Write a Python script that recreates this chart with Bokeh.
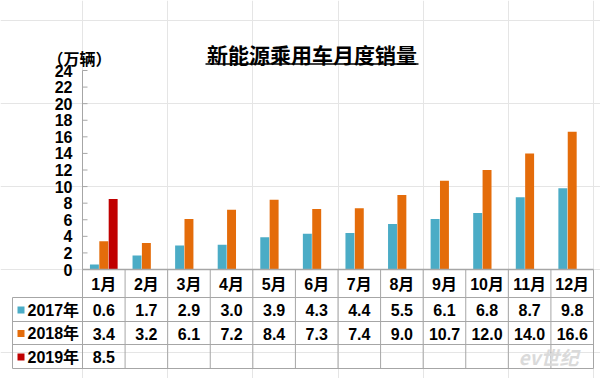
from bokeh.plotting import figure
from bokeh.models import Range1d
from bokeh.core.properties import value
from bokeh.embed import file_html
from bokeh.resources import INLINE

# ---- data ----
months = ["1月", "2月", "3月", "4月", "5月", "6月", "7月", "8月", "9月", "10月", "11月", "12月"]
sales_2017 = [0.6, 1.7, 2.9, 3.0, 3.9, 4.3, 4.4, 5.5, 6.1, 6.8, 8.7, 9.8]
sales_2018 = [3.4, 3.2, 6.1, 7.2, 8.4, 7.3, 7.4, 9.0, 10.7, 12.0, 14.0, 16.6]
sales_2019 = [8.5]
series_names = ["2017年", "2018年", "2019年"]
y_ticks = [0, 2, 4, 6, 8, 10, 12, 14, 16, 18, 20, 22, 24]
title_text = "新能源乘用车月度销量"
unit_text = "（万辆）"

# ---- styles ----
colors = ["#4BACC6", "#E46C0A", "#C00000"]
grid_col = "#A6A6A6"
FONT = "Liberation Sans, Noto Sans CJK SC"
CJK = "Noto Sans CJK SC"

W, H = 600, 378
# layout in pixels
ax_left, ax_right = 82.0, 593.0
base_y, top_y = 269.0, 70.0
ncat = len(months)
cat_px = (ax_right - ax_left) / ncat
unit_px = (base_y - top_y) / 24.0

x_start = -ax_left / cat_px
x_end = ncat + (W - ax_right) / cat_px
y_start = -(H - base_y) / unit_px
y_end = base_y / unit_px

p = figure(width=W, height=H, output_backend="svg", toolbar_location=None,
           x_range=Range1d(x_start, x_end), y_range=Range1d(y_start, y_end),
           x_axis_location=None, y_axis_location=None, min_border=0)
p.outline_line_color = None
p.background_fill_color = "white"
p.border_fill_color = "white"
p.extra_x_ranges = {"px": Range1d(0, W)}
p.extra_y_ranges = {"px": Range1d(H, 0)}

# ---- bars ----
bw = 0.21
offs = [-0.22, 0.0, 0.22]
series = [sales_2017, sales_2018, sales_2019]
for vals, off, col in zip(series, offs, colors):
    xs = [i + 0.5 + off for i in range(len(vals))]
    p.vbar(x=xs, top=vals, bottom=0, width=bw, fill_color=col, line_color=None)

# ---- y axis ----
p.segment(x0=[ax_left], x1=[ax_left], y0=[0], y1=[max(y_ticks)],
          x_range_name="px", line_color=grid_col, line_width=1)
p.segment(x0=[ax_left] * len(y_ticks), x1=[ax_left + 5] * len(y_ticks),
          y0=y_ticks, y1=y_ticks, x_range_name="px", line_color=grid_col, line_width=1)
p.text(x=[72] * len(y_ticks), y=y_ticks, text=[str(t) for t in y_ticks],
       x_range_name="px", text_align="right", text_baseline="middle",
       text_font=value(FONT), text_font_style="bold", text_font_size="16px",
       text_color="black")
p.text(x=[47], y=[57], text=[unit_text], x_range_name="px", y_range_name="px",
       text_align="left", text_baseline="middle", text_font=value(CJK),
       text_font_style="bold", text_font_size="16px", text_color="black")

# ---- x axis line ----
p.segment(x0=[0], x1=[ncat], y0=[0], y1=[0], line_color=grid_col, line_width=1.5)

# ---- title ----
p.text(x=[311.5], y=[53], text=[title_text], x_range_name="px", y_range_name="px",
       text_align="center", text_baseline="middle", text_font=value(CJK),
       text_font_style="bold", text_font_size="21px", text_color="black")
p.segment(x0=[205], x1=[418], y0=[63.5], y1=[63.5], x_range_name="px", y_range_name="px",
          line_color="black", line_width=1.3)

# ---- table ----
row_lines = [297, 321, 344, 368]
p.segment(x0=[12] * len(row_lines), x1=[ax_right] * len(row_lines),
          y0=row_lines, y1=row_lines, x_range_name="px", y_range_name="px",
          line_color=grid_col, line_width=1)
vx = list(range(ncat + 1))
p.segment(x0=vx, x1=vx, y0=[base_y] * len(vx), y1=[368] * len(vx),
          y_range_name="px", line_color=grid_col, line_width=1)
p.segment(x0=[12], x1=[12], y0=[297], y1=[368], x_range_name="px", y_range_name="px",
          line_color=grid_col, line_width=1)

cx = [i + 0.5 for i in range(ncat)]
p.text(x=cx, y=[284] * ncat, text=months, y_range_name="px",
       text_align="center", text_baseline="middle", text_font=value(FONT),
       text_font_style="bold", text_font_size="16px", text_color="black")

row_c = [309.5, 333, 356.5]
for vals, yc, col, name in zip(series, row_c, colors, series_names):
    n = len(vals)
    p.text(x=cx[:n], y=[yc] * n, text=[f"{v:.1f}" for v in vals], y_range_name="px",
           text_align="center", text_baseline="middle", text_font=value(FONT),
           text_font_style="bold", text_font_size="16px", text_color="black")
    p.rect(x=[20.5], y=[yc], width=7, height=7, x_range_name="px", y_range_name="px",
           fill_color=col, line_color=None)
    p.text(x=[27], y=[yc], text=[name], x_range_name="px", y_range_name="px",
           text_align="left", text_baseline="middle", text_font=value(FONT),
           text_font_style="bold", text_font_size="16px", text_color="black")

# ---- watermark ----
p.text(x=[548], y=[356], text=["ev世纪"], x_range_name="px", y_range_name="px",
       text_align="center", text_baseline="middle", text_font=value(CJK),
       text_font_style="bold italic", text_font_size="19px", text_color="#DADADA")

open("out.html", "w").write(file_html(p, INLINE))
